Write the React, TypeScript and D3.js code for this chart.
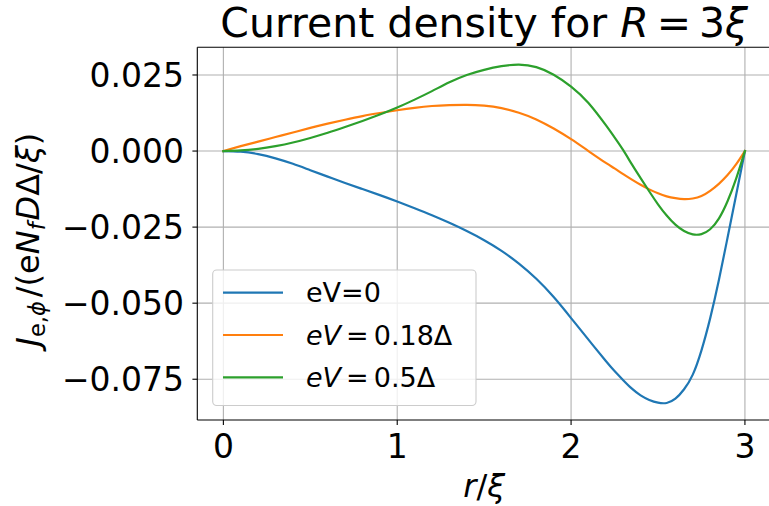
import React from "react";
import * as d3 from "d3";

// Radial positions r/ξ shared by all three series (finer near the edge)
const rValues = [
  0, 0.1, 0.2, 0.3, 0.4, 0.5, 0.6, 0.7, 0.8, 0.9, 1.0, 1.1, 1.2, 1.3, 1.4, 1.5,
  1.6, 1.7, 1.8, 1.9, 2.0, 2.1, 2.2,
  2.25, 2.3, 2.35, 2.4, 2.45, 2.5, 2.55, 2.6, 2.65, 2.7, 2.75, 2.8, 2.85, 2.9, 2.95, 3.0,
];

// Current density J_{e,φ} for eV = 0
const jZero = [
  0, -0.0002, -0.001, -0.0024, -0.0042, -0.0063, -0.0084, -0.0105, -0.0125, -0.0145, -0.0166,
  -0.0188, -0.0211, -0.0236, -0.0263, -0.0293, -0.0328, -0.037, -0.042, -0.048, -0.0549,
  -0.062, -0.069,
  -0.0723, -0.0753, -0.0781, -0.0803, -0.0818, -0.0827, -0.0828, -0.0814, -0.0783, -0.0735,
  -0.0655, -0.055, -0.0425, -0.0285, -0.0143, 0,
];

// Current density for eV = 0.18Δ
const jLow = [
  0, 0.0016, 0.0031, 0.0046, 0.0061, 0.0076, 0.009, 0.0103, 0.0115, 0.0125, 0.0134,
  0.0142, 0.0148, 0.0151, 0.0152, 0.0149, 0.0141, 0.0126, 0.0104, 0.0074, 0.0039,
  0.0, -0.0039,
  -0.0057, -0.0076, -0.0094, -0.0111, -0.0126, -0.0139, -0.0149, -0.0155, -0.0158, -0.0156,
  -0.0148, -0.0131, -0.0108, -0.0079, -0.0043, 0,
];

// Current density for eV = 0.5Δ
const jHigh = [
  0, 0.0002, 0.0007, 0.0016, 0.0028, 0.0043, 0.006, 0.0079, 0.0099, 0.012, 0.0143,
  0.0169, 0.0197, 0.0226, 0.025, 0.0267, 0.0279, 0.0284, 0.0276, 0.0251, 0.0212,
  0.0158, 0.0085,
  0.0045, 0.0003, -0.0044, -0.0089, -0.0133, -0.0175, -0.0212, -0.0242, -0.0263, -0.0274,
  -0.0273, -0.0257, -0.0222, -0.0165, -0.009, 0,
];

const xTicks = [0, 1, 2, 3];
const yTicks = [0.025, 0, -0.025, -0.05, -0.075];

const seriesColors = ["#1f77b4", "#ff7f0e", "#2ca02c"];

const W = 769;
const H = 506;
const left = 197.3;
const right = 771;
const top = 47.3;
const bottom = 420;

const FONT = "'DejaVu Sans', sans-serif";

export default function App() {
  const x = d3.scaleLinear().domain([-0.15, 3.15]).range([left, right]);
  const y = d3.scaleLinear().domain([-0.0884, 0.0341]).range([bottom, top]);

  const line = d3
    .line<[number, number]>()
    .x((d) => x(d[0]))
    .y((d) => y(d[1]))
    .curve(d3.curveNatural);

  const series = [jZero, jLow, jHigh].map((vals) => rValues.map((r, i) => [r, vals[i]] as [number, number]));

  const fmtY = (v: number) => {
    const s = Math.abs(v).toFixed(3);
    return v < 0 ? "\u2212" + s : s;
  };

  const legendX = 212.7;
  const legendY = 270;
  const legendW = 263.3;
  const legendH = 135.5;
  const rowY = [292.7, 335, 377.3];
  const legendFont = 27;

  return (
    <svg
      width={W}
      height={H}
      style={{ position: "absolute", left: 0, top: 0, background: "#fff" }}
      fontFamily={FONT}
    >
      <defs>
        <clipPath id="plotArea">
          <rect x={left} y={top} width={right - left} height={bottom - top} />
        </clipPath>
      </defs>

      {/* grid */}
      <g stroke="#b0b0b0" strokeWidth={1.1}>
        {xTicks.map((t) => (
          <line key={"gx" + t} x1={x(t)} x2={x(t)} y1={top} y2={bottom} />
        ))}
        {yTicks.map((t) => (
          <line key={"gy" + t} x1={left} x2={right} y1={y(t)} y2={y(t)} />
        ))}
      </g>

      {/* curves */}
      <g clipPath="url(#plotArea)" fill="none" strokeWidth={2.2} strokeLinejoin="round" strokeLinecap="square">
        {series.map((s, i) => (
          <path key={i} d={line(s) || ""} stroke={seriesColors[i]} />
        ))}
      </g>

      {/* legend */}
      <g>
        <rect
          x={legendX}
          y={legendY}
          width={legendW}
          height={legendH}
          rx={4}
          fill="#fff"
          fillOpacity={0.8}
          stroke="#cccccc"
          strokeWidth={1.1}
        />
        {rowY.map((ry, i) => (
          <line key={"ll" + i} x1={223} x2={283} y1={ry} y2={ry} stroke={seriesColors[i]} strokeWidth={2.2} />
        ))}
        <text x={306} y={rowY[0] + 9.5} fontSize={legendFont}>
          eV=0
        </text>
        <text x={306} y={rowY[1] + 9.5} fontSize={legendFont}>
          <tspan fontStyle="italic">eV</tspan>
          <tspan dx={5}>=</tspan>
          <tspan dx={5}>0.18Δ</tspan>
        </text>
        <text x={306} y={rowY[2] + 9.5} fontSize={legendFont}>
          <tspan fontStyle="italic">eV</tspan>
          <tspan dx={5}>=</tspan>
          <tspan dx={5}>0.5Δ</tspan>
        </text>
      </g>

      {/* spines (right spine lies past the edge) */}
      <g stroke="#000" strokeWidth={1.1} fill="none">
        <line x1={left} x2={right} y1={top} y2={top} />
        <line x1={left} x2={right} y1={bottom} y2={bottom} />
        <line x1={left} x2={left} y1={top} y2={bottom} />
      </g>

      {/* x ticks */}
      <g>
        {xTicks.map((t) => (
          <g key={"xt" + t}>
            <line x1={x(t)} x2={x(t)} y1={bottom} y2={bottom + 4.9} stroke="#000" strokeWidth={1.1} />
            <text x={x(t)} y={458} fontSize={33} textAnchor="middle">
              {String(t)}
            </text>
          </g>
        ))}
      </g>

      {/* y ticks */}
      <g>
        {yTicks.map((t) => (
          <g key={"yt" + t}>
            <line x1={left - 4.9} x2={left} y1={y(t)} y2={y(t)} stroke="#000" strokeWidth={1.1} />
            <text x={184} y={y(t) + 12} fontSize={33} textAnchor="end">
              {fmtY(t)}
            </text>
          </g>
        ))}
      </g>

      {/* x label */}
      <text x={(left + right) / 2} y={497} fontSize={32} textAnchor="middle">
        <tspan fontStyle="italic">r</tspan>
        <tspan>/</tspan>
        <tspan fontStyle="italic">ξ</tspan>
      </text>

      {/* y label */}
      <text
        transform={`translate(39, ${(top + bottom) / 2 + 6}) rotate(-90)`}
        fontSize={32}
        textAnchor="middle"
      >
        <tspan fontStyle="italic">J</tspan>
        <tspan fontSize={22.5} dy={6}>e,</tspan>
        <tspan fontSize={22.5} fontStyle="italic">ϕ</tspan>
        <tspan dy={-6} dx={4}>/(e</tspan>
        <tspan fontStyle="italic">N</tspan>
        <tspan fontSize={22.5} fontStyle="italic" dy={6}>f</tspan>
        <tspan fontStyle="italic" dy={-6} dx={2}>D</tspan>
        <tspan>Δ/</tspan>
        <tspan fontStyle="italic">ξ</tspan>
        <tspan>)</tspan>
      </text>

      {/* title */}
      <text x={(left + right) / 2} y={37} fontSize={41} textAnchor="middle">
        <tspan>Current density for </tspan>
        <tspan fontStyle="italic">R</tspan>
        <tspan dx={8}>=</tspan>
        <tspan dx={8}>3</tspan>
        <tspan fontStyle="italic">ξ</tspan>
      </text>
    </svg>
  );
}
